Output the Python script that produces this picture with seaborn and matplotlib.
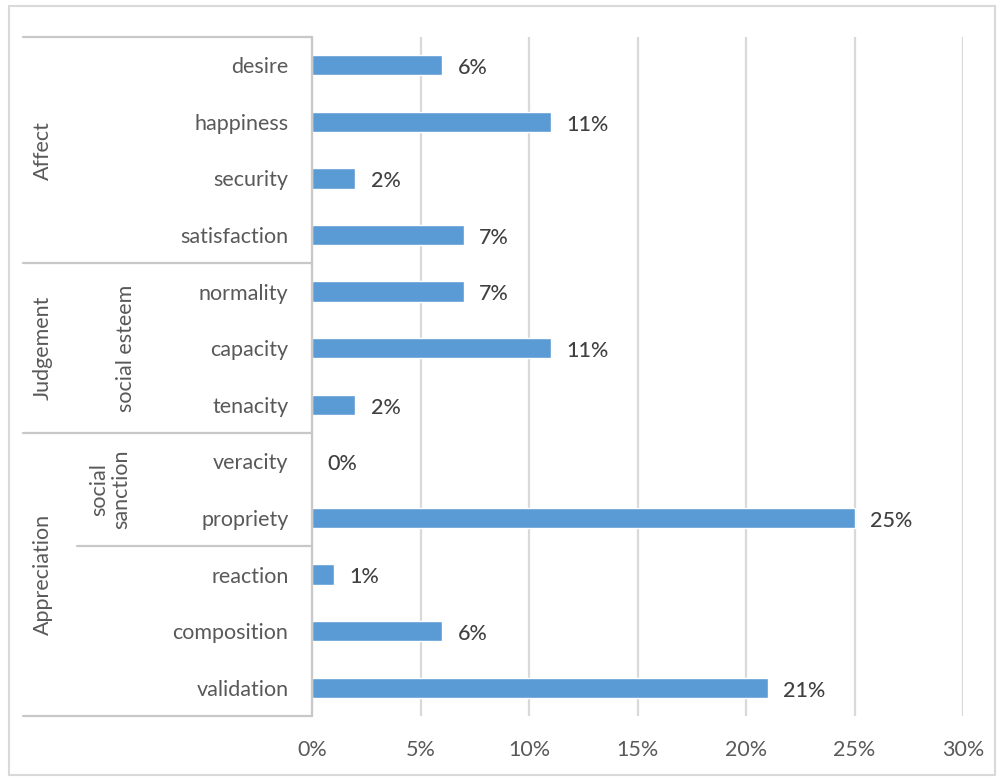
import matplotlib
matplotlib.use('Agg')
import matplotlib.pyplot as plt
import matplotlib.transforms as mtransforms
from matplotlib.patches import Rectangle
import pandas as pd
import seaborn as sns

categories = ['desire', 'happiness', 'security', 'satisfaction',
              'normality', 'capacity', 'tenacity',
              'veracity', 'propriety', 'reaction', 'composition', 'validation']
values = [6, 11, 2, 7, 7, 11, 2, 0, 25, 1, 6, 21]
groups = ['Affect'] * 4 + ['Judgement'] * 3 + ['Appreciation'] * 5
subgroups = [''] * 4 + ['social esteem'] * 3 + ['social\nsanction'] * 2 + [''] * 3
xticks = [0, 5, 10, 15, 20, 25, 30]

sns.set_style('white')
plt.rcParams['font.family'] = ['Lato', 'DejaVu Sans']

BAR = '#5B9BD5'
TXT = '#595959'
GRID = '#D9D9D9'
LINE = '#C8C8C8'
FS = 15.5

df = pd.DataFrame({'category': categories, 'value': values})

fig = plt.figure(figsize=(10.02, 7.78), dpi=100)
W, H = 1002, 778
ax = fig.add_axes([312 / W, (H - 716) / H, (963 - 312) / W, (716 - 37) / H])

sns.barplot(data=df, x='value', y='category', order=categories, color=BAR,
            width=0.36, ax=ax, saturation=1)

ax.set_xlim(0, 30)
ax.set_ylim(len(categories) - 0.5, -0.5)
ax.set_xticks(xticks)
ax.set_xticklabels([f'{t}%' for t in xticks])
ax.set_xlabel('')
ax.set_ylabel('')
ax.grid(axis='x', color=GRID, linewidth=1.6)
ax.set_axisbelow(True)
for s in ['top', 'right', 'bottom']:
    ax.spines[s].set_visible(False)
ax.spines['left'].set_color(LINE)
ax.spines['left'].set_linewidth(1.6)
ax.tick_params(axis='y', length=0, pad=17, labelsize=FS, labelcolor=TXT)
ax.tick_params(axis='x', length=0, pad=17, labelsize=FS, labelcolor=TXT)

# value labels
for i, v in enumerate(values):
    ax.text(v + 0.7, i + 0.05, f'{v}%', va='center', ha='left', fontsize=FS,
            color='#404040', fontweight='medium')

# hierarchical category labels
trans = mtransforms.blended_transform_factory(ax.transAxes, ax.transData)
n = len(categories)


def spans(labels):
    out = []
    start = 0
    for i in range(1, n + 1):
        if i == n or labels[i] != labels[start]:
            out.append((labels[start], start, i - 1))
            start = i
    return out


x_outer = (23 - 312) / 651
x_sub = (77 - 312) / 651
ax.plot([x_outer, 0], [-0.5, -0.5], transform=trans, color=LINE, lw=1.6, clip_on=False)
for name, a, b in spans(groups):
    ax.plot([x_outer, 0], [b + 0.5, b + 0.5], transform=trans, color=LINE,
            lw=1.6, clip_on=False)
    ax.text((43 - 312) / 651, (a + b) / 2, name, transform=trans, rotation=90,
            ha='center', va='center', fontsize=FS, color=TXT)

sub_x = {'social esteem': (126 - 312) / 651, 'social\nsanction': (110 - 312) / 651}
for name, a, b in spans(subgroups):
    if not name:
        continue
    ax.text(sub_x[name], (a + b) / 2, name, transform=trans, rotation=90,
            ha='center', va='center', fontsize=FS, color=TXT, linespacing=1.1)
    if name == 'social\nsanction':
        ax.plot([x_sub, 0], [b + 0.5, b + 0.5], transform=trans, color=LINE,
                lw=1.6, clip_on=False)

# outer chart border
fig.patches.append(Rectangle((9 / W, (H - 775) / H), (995 - 9) / W, (775 - 6) / H,
                             transform=fig.transFigure, fill=False,
                             edgecolor=GRID, linewidth=1.5))

fig.savefig('out.png', dpi=100)
